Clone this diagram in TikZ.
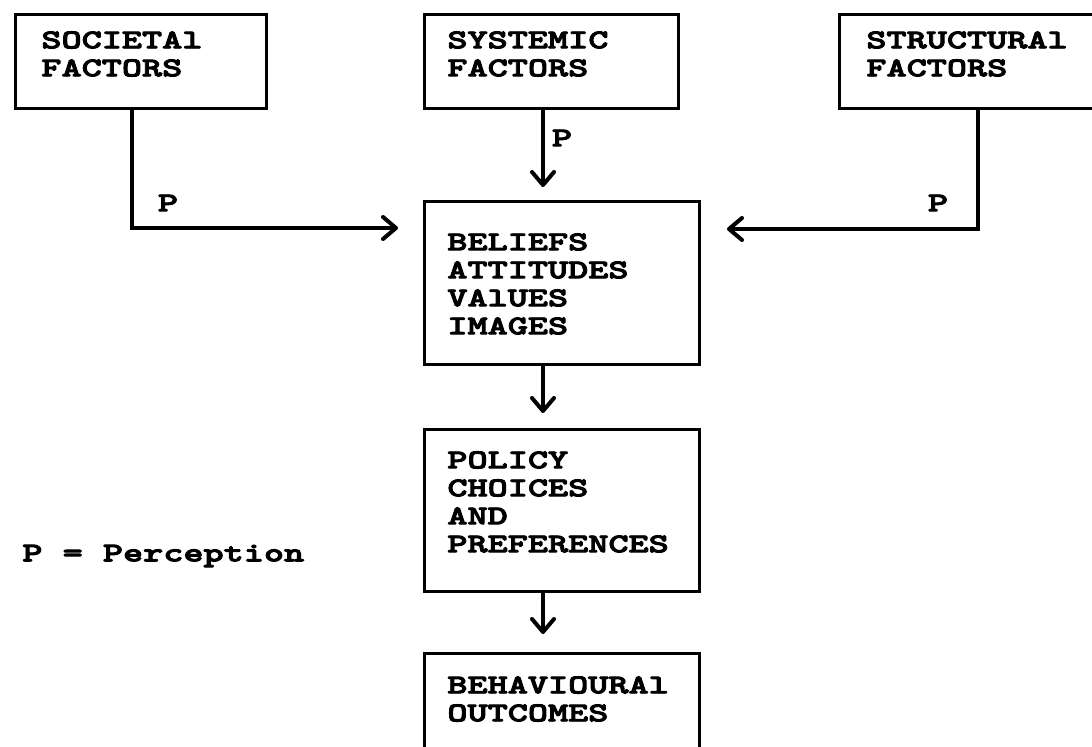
\documentclass[tikz,border=0pt]{standalone}
\usepackage{fontspec}
\usetikzlibrary{arrows.meta,calc}
% heavy slab-serif typewriter face, widened
\newfontfamily\typefont{lmmonolt10-bold.otf}[FakeStretch=1.42,FakeBold=3.5]
\begin{document}
\begin{tikzpicture}[x=0.5pt,y=-0.5pt,
  box/.style={draw,line width=1.6pt,rectangle,inner sep=0pt,anchor=north west},
  lbl/.style={font=\typefont\fontsize{13.5}{14}\selectfont,align=left,inner sep=0pt,anchor=west},
  link/.style={line width=1.6pt,-{Straight Barb[length=6.5pt,width=11pt,line width=2pt,line cap=round,line join=round]}}
]
\useasboundingbox (0,0) rectangle (1092,747);
\clip (0,0) rectangle (1092,747);

% factor boxes along the top
\node[box,minimum width=251*0.5pt,minimum height=94*0.5pt] (soc) at (14,13) {};
\node[box,minimum width=254*0.5pt,minimum height=94*0.5pt] (sys) at (423,13) {};
\node[box,minimum width=260*0.5pt,minimum height=94*0.5pt] (str) at (838,13) {};

% central column
\node[box,minimum width=275*0.5pt,minimum height=163*0.5pt] (bel) at (423,200) {};
\node[box,minimum width=275*0.5pt,minimum height=162*0.5pt] (pol) at (423,428) {};
\node[box,minimum width=275*0.5pt,minimum height=118*0.5pt] (beh) at (423,652) {};

% box texts
\node[lbl] (socT) at (41,54)  {SOCIETAl\\FACTORS};
\node[lbl] (sysT) at (447,54) {SYSTEMIC\\FACTORS};
\node[lbl] (strT) at (866,54) {STRUCTURAl\\FACTORS};
\node[lbl] (belT) at (447,284) {BELIEFS\\ATTITUDES\\VAlUES\\IMAGES};
\node[lbl] (polT) at (447,502) {POLICY\\CHOICES\\AND\\PREFERENCES};
\node[lbl] (behT) at (447,699) {BEHAVIOURAl\\OUTCOMES};

% perception labels
\node[lbl,anchor=center] (pSoc) at (168,203) {P};
\node[lbl,anchor=center] (pSys) at (562,138) {P};
\node[lbl,anchor=center] (pStr) at (938,203) {P};
\node[lbl] (legend) at (22,556) {P = Perception};

% connector columns and arrow tips
\coordinate (socx) at (132,0);
\coordinate (strx) at (978,0);
\coordinate (midx) at (543,0);
\coordinate (tipSoc) at (398,228);
\coordinate (tipStr) at (727,229);
\coordinate (tipSys) at (543,187);
\coordinate (tipPol) at (543,413);
\coordinate (tipBeh) at (543,634);

\draw[link] (soc.south -| socx) |- (tipSoc);
\draw[link] (str.south -| strx) |- (tipStr);
\draw[link] (sys.south -| midx) -- (tipSys);
\draw[link] (bel.south -| midx) -- (tipPol);
\draw[link] (pol.south -| midx) -- (tipBeh);
\end{tikzpicture}
\end{document}
